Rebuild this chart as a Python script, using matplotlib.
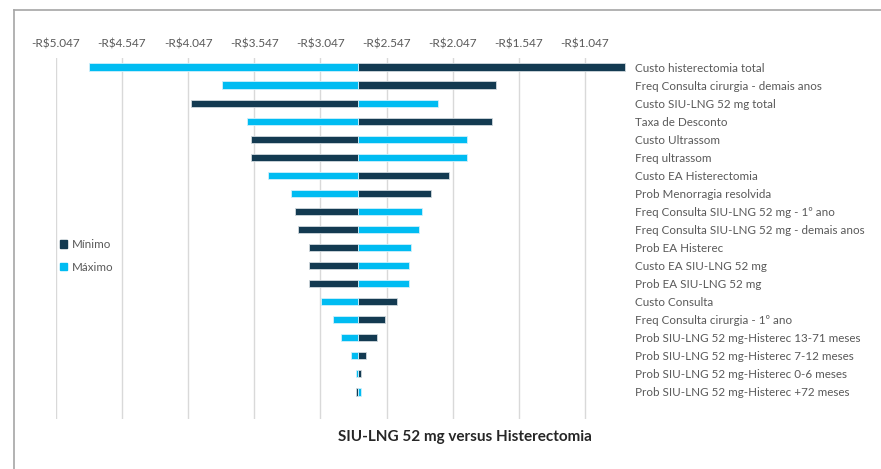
import matplotlib.pyplot as plt
from matplotlib.lines import Line2D
from matplotlib.patches import Patch
from matplotlib.ticker import FuncFormatter

# -----------------------------------
# DATA (custo incremental, R$)
# -----------------------------------
categorias = [
    "Custo histerectomia total",
    "Freq Consulta cirurgia - demais anos",
    "Custo SIU-LNG 52 mg total",
    "Taxa de Desconto",
    "Custo Ultrassom",
    "Freq ultrassom",
    "Custo EA Histerectomia",
    "Prob Menorragia resolvida",
    "Freq Consulta SIU-LNG 52 mg - 1º ano",
    "Freq Consulta SIU-LNG 52 mg - demais anos",
    "Prob EA Histerec",
    "Custo EA SIU-LNG 52 mg",
    "Prob EA SIU-LNG 52 mg",
    "Custo Consulta",
    "Freq Consulta cirurgia - 1º ano",
    "Prob SIU-LNG 52 mg-Histerec 13-71 meses",
    "Prob SIU-LNG 52 mg-Histerec 7-12 meses",
    "Prob SIU-LNG 52 mg-Histerec 0-6 meses",
    "Prob SIU-LNG 52 mg-Histerec +72 meses",
]

caso_base = -2762

minimo = [-745, -1721, -4025, -1747, -3574, -3574, -2073, -2209, -3240, -3214,
          -3133, -3133, -3133, -2468, -2558, -2622, -2700, -2738, -2775]
maximo = [-4797, -3792, -2160, -3601, -1942, -1942, -3444, -3267, -2276, -2302,
          -2366, -2378, -2378, -3045, -2953, -2892, -2814, -2775, -2738]

ticks = [-5047, -4547, -4047, -3547, -3047, -2547, -2047, -1547, -1047]

COR_MIN = "#133A51"
COR_MAX = "#00BCF2"
CINZA = "#595959"

plt.rcParams["font.family"] = ["Lato", "DejaVu Sans"]

fig = plt.figure(figsize=(8.81, 4.69), dpi=100)
ax = fig.add_axes([0.0633, 0.1066, 0.6529, 0.7697])

y = list(range(len(categorias)))
larg_min = [v - caso_base for v in minimo]
larg_max = [v - caso_base for v in maximo]

ax.barh(y, larg_min, left=caso_base, height=0.4, color=COR_MIN,
        edgecolor="#D0D8DD", linewidth=0.6, zorder=3)
ax.barh(y, larg_max, left=caso_base, height=0.4, color=COR_MAX,
        edgecolor="#D0F0FB", linewidth=0.6, zorder=3)

ax.set_xlim(-5047, -700)
ax.set_ylim(19.5, -0.5)

ax.set_xticks(ticks)
ax.xaxis.set_major_formatter(
    FuncFormatter(lambda v, p: "-R$" + f"{abs(v):,.0f}".replace(",", "."))
)
ax.xaxis.tick_top()
ax.tick_params(axis="x", length=0, pad=6, labelsize=8.5, labelcolor=CINZA)
ax.grid(axis="x", color="#D9D9D9", linewidth=1, zorder=0)

ax.set_yticks(y)
ax.set_yticklabels(categorias)
ax.yaxis.tick_right()
ax.tick_params(axis="y", length=0, pad=3, labelsize=8.4, labelcolor=CINZA)

for s in ax.spines.values():
    s.set_visible(False)

handles = [Patch(color=COR_MIN), Patch(color=COR_MAX)]
fig.legend(handles, ["Mínimo", "Máximo"], loc="center left",
           bbox_to_anchor=(0.062, 1 - 256 / 469), frameon=False,
           fontsize=8.4, labelcolor=CINZA, handlelength=0.6, handleheight=0.6,
           handletextpad=0.4, labelspacing=1.0, borderpad=0)

fig.text(465 / 881, 1 - 437 / 469, "SIU-LNG 52 mg versus Histerectomia",
         ha="center", va="center", fontsize=11, fontweight="bold",
         color="#262626")

# moldura da área do gráfico
fig.add_artist(Line2D([14 / 881, 1], [1 - 10 / 469, 1 - 10 / 469],
                      color="#A6A6A6", linewidth=1.2))
fig.add_artist(Line2D([14 / 881, 14 / 881], [0, 1 - 10 / 469],
                      color="#A6A6A6", linewidth=1.2))

fig.savefig("out.png", dpi=100, facecolor="white")
